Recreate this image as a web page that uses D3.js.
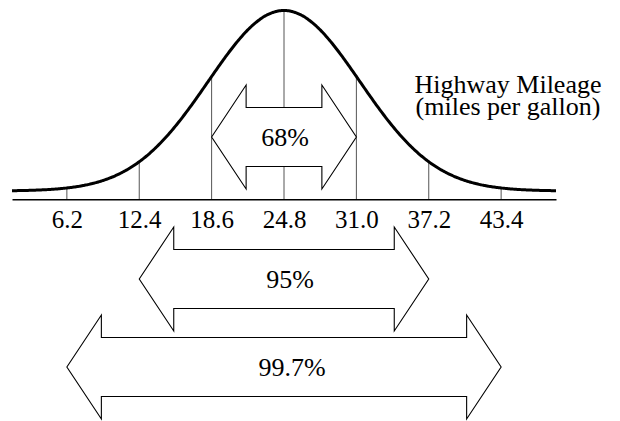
<!DOCTYPE html>
<html>
<head>
<meta charset="utf-8">
<script src="https://cdn.jsdelivr.net/npm/d3@7"></script>
<style>
  html, body { margin: 0; padding: 0; background: #fff; }
  svg { display: block; }
</style>
</head>
<body>
<svg id="chart" width="620" height="421"></svg>
<script>
// ---- data ----
const mean = 24.8;
const sd = 6.2;
const tickValues = [6.2, 12.4, 18.6, 24.8, 31.0, 37.2, 43.4];
const tickLabels = ["6.2", "12.4", "18.6", "24.8", "31.0", "37.2", "43.4"];
const rangeLow = [18.6, 12.4, 6.2];
const rangeHigh = [31.0, 37.2, 43.4];
const rangeLabels = ["68%", "95%", "99.7%"];
const axisDomain = [1.5, 48.1];
const curveSpread = 6.5;          // drawn width of the bell
const titleLines = ["Highway Mileage", "(miles per gallon)"];

// ---- layout ----
const W = 620, H = 421;
const FONT = "'Liberation Serif', 'Times New Roman', serif";
const axisY = 199.3;
const curveBase = 191, curvePeak = 10.5;
const arrowCY = [137, 279, 367];
const labelDx = [1, 6, 8];
const headLen = 34.5, headHalf = 52, shaftHalf = 29.5;

const svg = d3.select("#chart");

const x = d3.scaleLinear().domain(axisDomain).range([12, 556]);
const pdf = v => Math.exp(-0.5 * Math.pow((v - mean) / curveSpread, 2));
const y = d3.scaleLinear().domain([0, 1]).range([curveBase, curvePeak]);

// vertical lines from curve to axis
svg.append("g")
  .selectAll("line")
  .data(tickValues)
  .join("line")
  .attr("x1", d => x(d)).attr("x2", d => x(d))
  .attr("y1", d => y(pdf(d)))
  .attr("y2", axisY)
  .attr("stroke", "#555")
  .attr("stroke-width", 1);

// curve
const pts = d3.range(axisDomain[0], axisDomain[1] + 0.001, 0.1);
svg.append("path")
  .datum(pts)
  .attr("fill", "none")
  .attr("stroke", "#000")
  .attr("stroke-width", 3)
  .attr("d", d3.line().x(d => x(d)).y(d => y(pdf(d))).curve(d3.curveBasis));

// axis
const axis = d3.axisBottom(x)
  .tickValues(tickValues)
  .tickFormat((d, i) => tickLabels[i])
  .tickSize(0)
  .tickSizeOuter(0)
  .tickPadding(0);
const ag = svg.append("g").attr("transform", `translate(0,${axisY})`).call(axis);
ag.select(".domain").attr("stroke", "#000").attr("stroke-width", 1.5);
ag.selectAll(".tick text")
  .attr("font-family", FONT)
  .attr("font-size", 25)
  .attr("fill", "#000")
  .attr("dy", null)
  .attr("y", 28.5);

// arrows
const arrowPoly = (x1, x2, cy) => [
  [x1, cy], [x1 + headLen, cy - headHalf], [x1 + headLen, cy - shaftHalf],
  [x2 - headLen, cy - shaftHalf], [x2 - headLen, cy - headHalf], [x2, cy],
  [x2 - headLen, cy + headHalf], [x2 - headLen, cy + shaftHalf],
  [x1 + headLen, cy + shaftHalf], [x1 + headLen, cy + headHalf]
];
const arrows = svg.append("g")
  .selectAll("g")
  .data(rangeLabels.map((l, i) => ({ lo: rangeLow[i], hi: rangeHigh[i], label: l, i })))
  .join("g");
arrows.append("polygon")
  .attr("points", d => arrowPoly(x(d.lo), x(d.hi), arrowCY[d.i]).map(p => p.join(",")).join(" "))
  .attr("fill", "#fff")
  .attr("stroke", "#000")
  .attr("stroke-width", 1.1);
arrows.append("text")
  .attr("x", d => (x(d.lo) + x(d.hi)) / 2 + labelDx[d.i])
  .attr("y", d => arrowCY[d.i] + 8.5)
  .attr("text-anchor", "middle")
  .attr("font-family", FONT)
  .attr("font-size", 26)
  .attr("fill", "#000")
  .text(d => d.label);

// title
svg.append("g")
  .selectAll("text")
  .data(titleLines)
  .join("text")
  .attr("x", 508)
  .attr("y", (d, i) => 93 + i * 22)
  .attr("text-anchor", "middle")
  .attr("font-family", FONT)
  .attr("font-size", 26)
  .attr("fill", "#000")
  .text(d => d);
</script>
</body>
</html>
